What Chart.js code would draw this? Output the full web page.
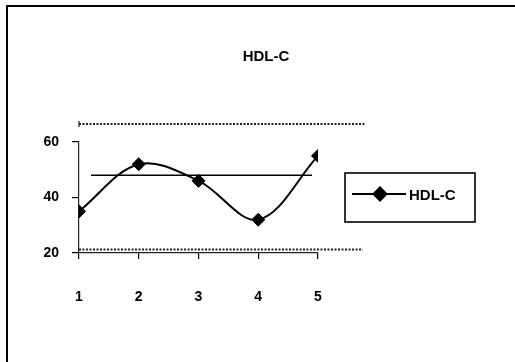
<!DOCTYPE html>
<html>
<head>
<meta charset="utf-8">
<title>HDL-C</title>
<script src="https://cdn.jsdelivr.net/npm/chart.js@4.4.1/dist/chart.umd.min.js"></script>
<style>
  html, body { margin: 0; padding: 0; background: #fff; }
  #wrap { width: 515px; height: 362px; }
</style>
</head>
<body>
<div id="wrap"><canvas id="chart" width="515" height="362"></canvas></div>
<script>
// Measurements 1..5
const categories = ['1', '2', '3', '4', '5'];
const hdlValues = [35, 52, 46, 32, 55];
const seriesName = 'HDL-C';
const yTicks = [20, 40, 60];

// Reference lines: mean level and upper / lower limits (x runs in category units)
const meanLevel = 48;
const meanSpan = [1.2, 4.9];
const upperLimit = 66.5;
const upperSpan = [1, 5.8];
const lowerLimit = 21.3;
const lowerSpan = [1, 5.75];

const FONT = '"Liberation Sans", Arial, sans-serif';

const hdlPoints = hdlValues.map((v, i) => ({ x: i + 1, y: v }));
const hline = (level, span) => span.map(x => ({ x: x, y: level }));

// Outer frame of the drawing
const framePlugin = {
  id: 'frame',
  beforeDraw(chart) {
    const ctx = chart.ctx;
    ctx.save();
    ctx.fillStyle = '#fff';
    ctx.fillRect(0, 0, chart.width, chart.height);
    ctx.strokeStyle = '#000';
    ctx.lineWidth = 2;
    ctx.beginPath();
    ctx.moveTo(7, chart.height);
    ctx.lineTo(7, 6);
    ctx.lineTo(chart.width, 6);
    ctx.stroke();
    ctx.restore();
  }
};

// Boxed legend at the right of the plot
const boxLegendPlugin = {
  id: 'boxLegend',
  afterDraw(chart) {
    const ds = chart.data.datasets[0];
    const ctx = chart.ctx;
    const bx = 345, by = 173, bw = 130, bh = 49;
    const cy = by + 21;
    ctx.save();
    ctx.strokeStyle = '#000';
    ctx.lineWidth = 1.6;
    ctx.strokeRect(bx, by, bw, bh);
    ctx.lineWidth = ds.borderWidth;
    ctx.strokeStyle = ds.borderColor;
    ctx.beginPath();
    ctx.moveTo(bx + 7, cy);
    ctx.lineTo(bx + 61, cy);
    ctx.stroke();
    ctx.fillStyle = ds.pointBackgroundColor;
    Chart.helpers.drawPoint(ctx, {
      pointStyle: ds.pointStyle, radius: ds.pointRadius, borderWidth: 1, rotation: 0
    }, bx + 35, cy);
    ctx.fillStyle = '#000';
    ctx.font = 'bold 15px ' + FONT;
    ctx.textAlign = 'left';
    ctx.textBaseline = 'middle';
    ctx.fillText(ds.label, bx + 64, cy + 2);
    ctx.restore();
  }
};

// Short upright mark where the upper limit line starts
const limitMarkPlugin = {
  id: 'limitMark',
  afterDatasetsDraw(chart) {
    const x = chart.scales.x.getPixelForValue(upperSpan[0]);
    const y = chart.scales.y.getPixelForValue(upperLimit);
    const ctx = chart.ctx;
    ctx.save();
    ctx.strokeStyle = '#222';
    ctx.lineWidth = 1.2;
    ctx.beginPath();
    ctx.moveTo(x, y - 3);
    ctx.lineTo(x, y + 3);
    ctx.stroke();
    ctx.restore();
  }
};

new Chart(document.getElementById('chart'), {
  type: 'line',
  data: {
    datasets: [
      {
        label: seriesName,
        data: hdlPoints,
        borderColor: '#000',
        borderWidth: 2,
        tension: 0.35,
        pointStyle: 'rectRot',
        pointRadius: 6.5,
        pointBackgroundColor: '#000',
        pointBorderColor: '#000',
        pointBorderWidth: 1,
        order: 0
      },
      {
        label: 'mean',
        data: hline(meanLevel, meanSpan),
        borderColor: '#000',
        borderWidth: 1.6,
        pointRadius: 0,
        clip: false,
        order: 1
      },
      {
        label: 'upper',
        data: hline(upperLimit, upperSpan),
        borderColor: '#222',
        borderWidth: 2,
        borderDash: [2, 1.5],
        pointRadius: 0,
        clip: false,
        order: 1
      },
      {
        label: 'lower',
        data: hline(lowerLimit, lowerSpan),
        borderColor: '#222',
        borderWidth: 2,
        borderDash: [2, 1.5],
        pointRadius: 0,
        clip: false,
        order: 1
      }
    ]
  },
  options: {
    responsive: false,
    animation: false,
    events: [],
    layout: { padding: { left: 17, right: 0, top: 0, bottom: 0 }, autoPadding: false },
    plugins: {
      legend: { display: false },
      tooltip: { enabled: false },
      title: {
        display: true,
        text: seriesName,
        color: '#000',
        font: { family: FONT, size: 15, weight: 'bold', lineHeight: 1.2 },
        padding: { top: 48, bottom: 76 }
      }
    },
    scales: {
      x: {
        type: 'linear',
        position: 'bottom',
        min: 1,
        max: 5,
        afterBuildTicks(scale) {
          scale.ticks = categories.map((c, i) => ({ value: i + 1 }));
        },
        afterFit(scale) { scale.height = 109; },
        grid: { display: true, drawOnChartArea: false, drawTicks: true, tickLength: 6, color: '#000', lineWidth: 1.2 },
        border: { display: true, color: '#222', width: 1.2 },
        ticks: {
          padding: 30,
          color: '#000',
          font: { family: FONT, size: 14, weight: 'bold', lineHeight: 1.2 },
          maxRotation: 0,
          autoSkip: false,
          callback: (v) => categories[v - 1]
        }
      },
      y: {
        position: 'left',
        min: 20,
        max: 60,
        afterBuildTicks(scale) {
          scale.ticks = yTicks.map(v => ({ value: v }));
        },
        afterFit(scale) { scale.width = 62; },
        grid: { display: true, drawOnChartArea: false, drawTicks: true, tickLength: 7, color: '#000', lineWidth: 1.2 },
        border: { display: true, color: '#222', width: 1.2 },
        ticks: {
          padding: 13,
          color: '#000',
          font: { family: FONT, size: 14, weight: 'bold', lineHeight: 1.2 }
        }
      },
      side: {
        position: 'right',
        display: true,
        afterFit(scale) { scale.width = 197; },
        grid: { display: false },
        border: { display: false },
        ticks: { display: false }
      }
    }
  },
  plugins: [framePlugin, limitMarkPlugin, boxLegendPlugin]
});
</script>
</body>
</html>
